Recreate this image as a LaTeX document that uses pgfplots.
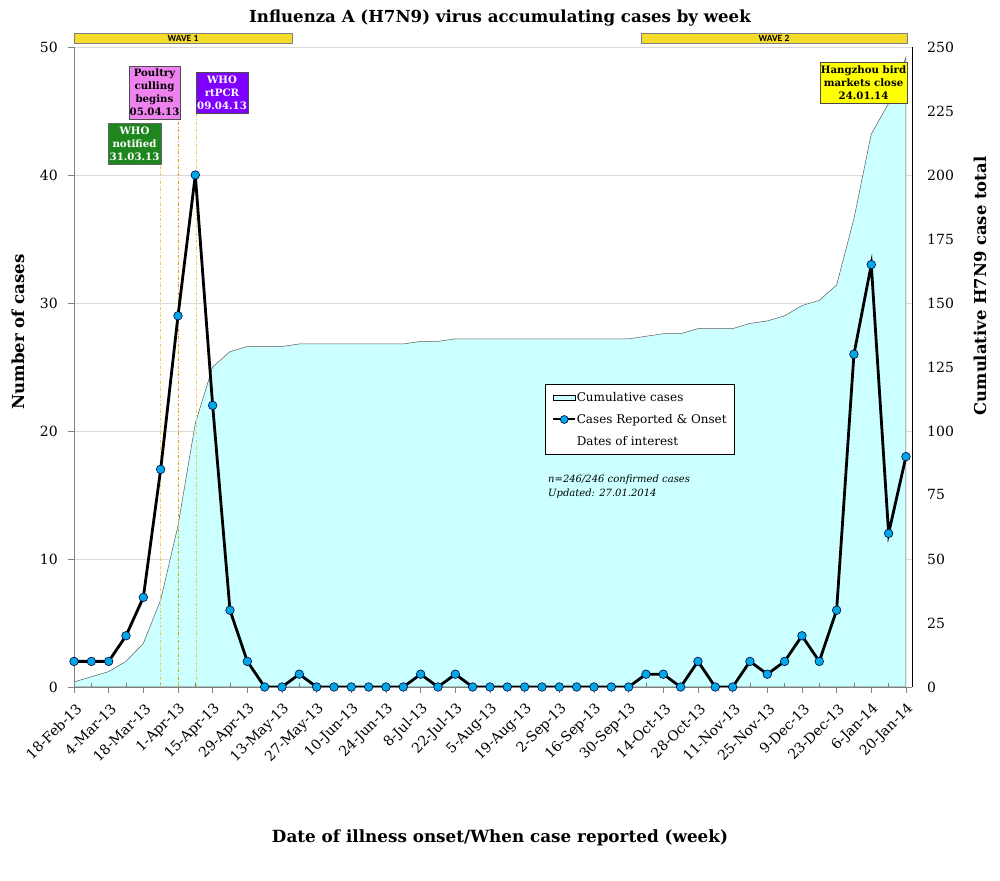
\documentclass[border=0pt]{standalone}
\usepackage{fontspec}
\setmainfont{DejaVu Serif}
\newfontfamily\wavefont{Carlito}
\usepackage{pgfplots}
\pgfplotsset{compat=1.18}
\usepackage{pgfplotstable}

\definecolor{cumcyan}{HTML}{CCFFFF}
\definecolor{markblue}{HTML}{00A8E6}
\definecolor{axgray}{HTML}{808080}
\definecolor{gridgray}{HTML}{D9D9D9}
\definecolor{wavey}{HTML}{F5DC2A}
\definecolor{whogreen}{HTML}{1F861F}
\definecolor{poultry}{HTML}{EE82EE}
\definecolor{rtpcr}{HTML}{7F00FF}
\definecolor{hangy}{HTML}{FFFF00}
\definecolor{dateorange}{HTML}{E0A000}
\definecolor{datelight}{HTML}{F0C850}

\pgfplotstableread{
week cases cum
0 2 2
1 2 4
2 2 6
3 4 10
4 7 17
5 17 34
6 29 63
7 40 103
8 22 125
9 6 131
10 2 133
11 0 133
12 0 133
13 1 134
14 0 134
15 0 134
16 0 134
17 0 134
18 0 134
19 0 134
20 1 135
21 0 135
22 1 136
23 0 136
24 0 136
25 0 136
26 0 136
27 0 136
28 0 136
29 0 136
30 0 136
31 0 136
32 0 136
33 1 137
34 1 138
35 0 138
36 2 140
37 0 140
38 0 140
39 2 142
40 1 143
41 2 145
42 4 149
43 2 151
44 6 157
45 26 183
46 33 216
47 12 228
48 18 246
}\datatable

\begin{document}
\begin{tikzpicture}[x=1pt,y=1pt]
\useasboundingbox (0,0) rectangle (1000,880);
% right axis: cumulative area
\begin{axis}[
  at={(74pt,193pt)}, anchor=south west, scale only axis,
  width=838pt, height=640pt,
  xmin=0, xmax=48.35, ymin=0, ymax=250,
  axis x line=none, axis y line*=right,
  y axis line style={black, line width=0.9pt},
  ytick={0,25,...,250}, major tick length=0pt,
  /pgf/number format/assume math mode=true,
  yticklabel style={font=\fontsize{14}{14}\selectfont, anchor=west, inner sep=0pt, xshift=15pt},
  extra y ticks={50,100,150,200,250}, extra y tick labels={},
  extra y tick style={grid=major, major grid style={gridgray, line width=0.8pt}},
]
\addplot[fill=cumcyan, draw=black!65, line width=0.5pt] table[x=week,y=cum]{\datatable} \closedcycle;
\end{axis}
% left axis: weekly cases
\begin{axis}[
  at={(74pt,193pt)}, anchor=south west, scale only axis,
  width=838pt, height=640pt,
  xmin=0, xmax=48.35, ymin=0, ymax=50,
  axis x line*=bottom, axis y line*=left,
  axis line style={axgray, line width=0.9pt},
  xtick={0,2,...,48},
  xticklabels={18-Feb-13,4-Mar-13,18-Mar-13,1-Apr-13,15-Apr-13,29-Apr-13,13-May-13,27-May-13,10-Jun-13,24-Jun-13,8-Jul-13,22-Jul-13,5-Aug-13,19-Aug-13,2-Sep-13,16-Sep-13,30-Sep-13,14-Oct-13,28-Oct-13,11-Nov-13,25-Nov-13,9-Dec-13,23-Dec-13,6-Jan-14,20-Jan-14},
  minor xtick={1,3,...,47},
  ytick={0,10,...,50},
  tick align=outside,
  major tick length=6pt, minor tick length=4pt,
  tick style={axgray, line width=0.9pt},
  minor tick style={yshift=4pt},
  /pgf/number format/assume math mode=true,
  yticklabel style={font=\fontsize{14}{14}\selectfont, anchor=east, inner sep=0pt, xshift=-10pt},
  xticklabel style={font=\fontsize{14}{14}\selectfont, inner sep=0pt, xshift=5pt, yshift=-13pt, rotate=45, anchor=east},
  legend style={at={(0.562,0.473)}, anchor=north west, draw=black, line width=0.6pt,
    fill=white, font=\fontsize{12}{14}\selectfont, row sep=9.5pt, inner xsep=7pt, inner ysep=6.5pt,
    nodes={inner xsep=0.5pt, inner ysep=1pt}},
  legend cell align=left,
]
\addplot[datelight, dash dot, line width=0.8pt, forget plot] coordinates {(4.96,0) (4.96,40.9)};
\addplot[dateorange, dash dot, line width=0.8pt, forget plot] coordinates {(6.0,0) (6.0,44.4)};
\addplot[datelight, dash dot, line width=0.8pt, forget plot] coordinates {(7.04,0) (7.04,44.8)};
\addlegendimage{legend image code/.code={\draw[fill=cumcyan, draw=black, line width=0.6pt] (0pt,-2.5pt) rectangle (22pt,2.5pt);}}
\addplot[black, line width=2.8pt, mark=*, mark size=4.3pt,
  mark options={fill=markblue, draw=black!75!blue, line width=0.6pt},
  legend image code/.code={\draw[black, line width=2pt] (0pt,0pt) -- (22pt,0pt); \draw[fill=markblue, draw=black!75!blue, line width=0.6pt] (11pt,0pt) circle (4pt);}]
  table[x=week,y=cases]{\datatable};
\addlegendimage{legend image code/.code={\path[draw=none] (0pt,0pt) -- (22pt,0pt);}}
\legend{Cumulative cases, Cases Reported \& Onset, Dates of interest}
\end{axis}

% title and axis labels
\node[font=\bfseries\fontsize{16.6}{16.6}\selectfont] at (500,862) {Influenza A (H7N9) virus accumulating cases by week};
\node[font=\bfseries\fontsize{16.6}{16.6}\selectfont, rotate=90] at (18,548) {Number of cases};
\node[font=\bfseries\fontsize{16.4}{16.4}\selectfont, rotate=90] at (980,594) {Cumulative H7N9 case total};
\node[font=\bfseries\fontsize{16.8}{16.8}\selectfont] at (500,42) {Date of illness onset/When case reported (week)};

% wave bars
\node[fill=wavey, draw=gray, line width=0.6pt, minimum width=218pt, minimum height=10pt, inner sep=0pt,
  font=\wavefont\bfseries\fontsize{9.5}{9.5}\selectfont] at (183,842) {WAVE 1};
\node[fill=wavey, draw=gray, line width=0.6pt, minimum width=266pt, minimum height=10pt, inner sep=0pt,
  font=\wavefont\bfseries\fontsize{9.5}{9.5}\selectfont] at (774,842) {WAVE 2};

% event boxes
\node[fill=whogreen, draw=black!60, line width=0.6pt, text=white, align=center, inner sep=0.5pt,
  minimum width=53pt, minimum height=41pt, font=\bfseries\fontsize{10.2}{13}\selectfont] at (134.5,736.5) {WHO\\notified\\31.03.13};
\node[fill=poultry, draw=black!70, line width=0.6pt, text=black, align=center, inner sep=0.5pt,
  minimum width=49pt, minimum height=53pt, font=\bfseries\fontsize{10.2}{13}\selectfont] at (154.5,787.5) {Poultry\\culling\\begins\\05.04.13};
\node[fill=rtpcr, draw=black!70, line width=0.6pt, text=white, align=center, inner sep=0.5pt,
  minimum width=52pt, minimum height=41pt, font=\bfseries\fontsize{10.2}{13}\selectfont] at (222,787.5) {WHO\\rtPCR\\09.04.13};
\node[fill=hangy, draw=black!70, line width=0.6pt, text=black, align=center, inner sep=0.5pt,
  minimum width=87pt, minimum height=41pt, font=\bfseries\fontsize{10.2}{13}\selectfont] at (863.5,797.5) {Hangzhou bird\\markets close\\24.01.14};

% note
\node[anchor=west, inner sep=0pt, font=\itshape\fontsize{10}{10}\selectfont] at (548,400) {n=246/246 confirmed cases};
\node[anchor=west, inner sep=0pt, font=\itshape\fontsize{10}{10}\selectfont] at (548,386) {Updated: 27.01.2014};
\end{tikzpicture}
\end{document}
